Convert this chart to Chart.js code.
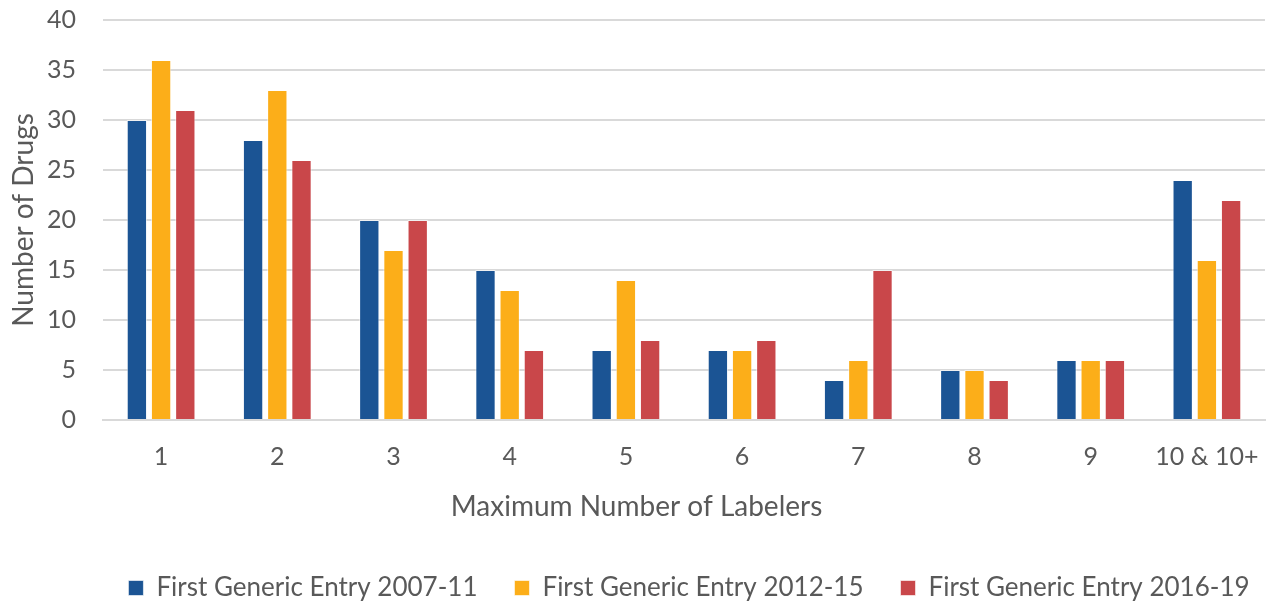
<!DOCTYPE html>
<html>
<head>
<meta charset="utf-8">
<script src="https://cdn.jsdelivr.net/npm/chart.js@4/dist/chart.umd.min.js"></script>
<style>
  html, body { margin: 0; padding: 0; background: #fff; }
  #wrap { width: 1273px; height: 602px; }
</style>
</head>
<body>
<div id="wrap"><canvas id="myChart"></canvas></div>
<script>
// Categories and series
const labelers = ['1', '2', '3', '4', '5', '6', '7', '8', '9', '10 & 10+'];
const entry2007 = [30, 28, 20, 15, 7, 7, 4, 5, 6, 24];
const entry2012 = [36, 33, 17, 13, 14, 7, 6, 5, 6, 16];
const entry2016 = [31, 26, 20, 7, 8, 8, 15, 4, 6, 22];

const textColor = '#595959';
const fontFamily = 'Lato, "Open Sans", sans-serif';
const fontSize = 25;
const titleSize = 28;

function series(label, data, color) {
    return {
        label: label,
        data: data,
        backgroundColor: color,
        borderColor: 'rgba(255,255,255,0.6)',
        borderWidth: 1,
        barPercentage: 0.84,
        categoryPercentage: 0.625
    };
}

// legend row sits a little right of the canvas centre in the original,
// and the x title is centred on the whole canvas rather than the plot
const layoutTweaks = {
    id: 'layoutTweaks',
    afterLayout(chart) {
        chart.legend.left += 53;
        chart.legend.right += 53;
        const xs = chart.scales.x;
        if (!xs._titleWrapped) {
            const orig = xs.drawTitle;
            xs.drawTitle = function () {
                const l = this.left;
                this.left = chart.width - this.right;
                orig.call(this);
                this.left = l;
            };
            xs._titleWrapped = true;
        }
    }
};

const ctx = document.getElementById('myChart').getContext('2d');
new Chart(ctx, {
    type: 'bar',
    data: {
        labels: labelers,
        datasets: [
            series('First Generic Entry 2007-11', entry2007, '#1b5494'),
            series('First Generic Entry 2012-15', entry2012, '#fcae19'),
            series('First Generic Entry 2016-19', entry2016, '#c9474a')
        ]
    },
    plugins: [layoutTweaks],
    options: {
        responsive: true,
        maintainAspectRatio: false,
        animation: false,
        layout: { padding: { top: 0, right: 8, left: 7, bottom: -9 } },
        plugins: {
            tooltip: { enabled: false },
            legend: {
                position: 'bottom',
                labels: {
                    color: textColor,
                    font: { family: fontFamily, size: 26 },
                    boxWidth: 15,
                    boxHeight: 15,
                    padding: 37
                }
            }
        },
        scales: {
            x: {
                grid: { display: false, drawTicks: false },
                border: { color: '#d9d9d9', width: 2 },
                ticks: { color: textColor, font: { family: fontFamily, size: fontSize }, padding: 22 },
                title: {
                    display: true,
                    text: 'Maximum Number of Labelers',
                    color: textColor,
                    font: { family: fontFamily, size: titleSize },
                    padding: { top: 0, bottom: 14 }
                },
                afterFit: (scale) => {
                    scale.paddingLeft = 0;
                    scale.paddingRight = 0;
                    scale.height = 118;
                }
            },
            y: {
                min: 0,
                max: 40,
                ticks: { stepSize: 5, color: textColor, font: { family: fontFamily, size: fontSize }, padding: 27 },
                grid: { color: '#d9d9d9', lineWidth: 2, drawTicks: false },
                border: { display: false },
                title: {
                    display: true,
                    text: 'Number of Drugs',
                    color: textColor,
                    font: { family: fontFamily, size: titleSize },
                    padding: { top: 0, bottom: 0 }
                },
                afterFit: (scale) => {
                    scale.width = 96;
                    scale.paddingTop = 20;
                    scale.paddingBottom = 0;
                }
            }
        }
    }
});
</script>
</body>
</html>
